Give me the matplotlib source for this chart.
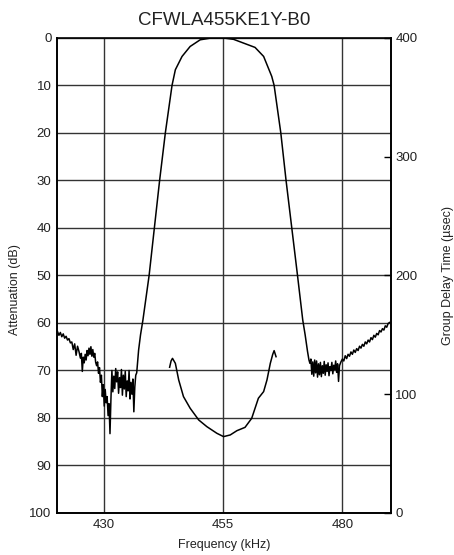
import numpy as np
import matplotlib
matplotlib.use("Agg")
import matplotlib.pyplot as plt

plt.rcParams['font.family'] = ['Liberation Sans', 'DejaVu Sans']

title = "CFWLA455KE1Y-B0"

# attenuation curve (dB)
att_freq = [
    420.3, 420.6, 420.9, 421.2, 421.5, 421.8, 422.1, 422.4, 422.7, 423.0,
    423.3, 423.6, 423.9, 424.2, 424.5, 424.8, 425.1, 425.3, 425.5, 425.7,
    425.9, 426.1, 426.3, 426.5, 426.7, 426.9, 427.1, 427.3, 427.5, 427.7,
    427.9, 428.1, 428.3, 428.5, 428.7, 428.9, 429.1, 429.3, 429.5, 429.7,
    429.9, 430.1, 430.3, 430.5, 430.7, 430.9, 431.1, 431.3, 431.5, 431.7,
    431.9, 432.1, 432.3, 432.5, 432.7, 432.9, 433.1, 433.3, 433.5, 433.7,
    433.9, 434.1, 434.3, 434.5, 434.7, 434.9, 435.1, 435.3, 435.5, 435.7,
    435.9, 436.1, 436.3, 436.5, 436.7, 436.9, 437.1, 437.3, 437.7, 438.2,
    439.5, 440.6, 441.7, 442.9, 443.6, 444.3, 445.0, 446.4, 448.1, 450.2,
    452.3, 455.0, 457.2, 459.3, 461.7, 463.5, 465.2, 465.7, 466.4, 467.1,
    468.2, 469.4, 470.6, 471.7, 472.2, 472.7, 473.0,
    473.2, 473.4, 473.6, 473.8, 474.0, 474.2, 474.4, 474.6, 474.8, 475.0,
    475.2, 475.4, 475.6, 475.8, 476.0, 476.2, 476.4, 476.6, 476.8, 477.0,
    477.2, 477.4, 477.6, 477.8, 478.0, 478.2, 478.4, 478.6, 478.8, 479.0,
    479.2, 479.4, 479.7, 480.0, 480.3, 480.6, 480.9, 481.2, 481.5, 481.8,
    482.1, 482.4, 482.7, 483.0, 483.3, 483.6, 483.9, 484.2, 484.5, 484.8,
    485.1, 485.4, 485.7, 486.0, 486.3, 486.6, 486.9, 487.2, 487.5, 487.8,
    488.1, 488.4, 488.7, 489.0, 489.3, 489.6, 489.9,
]
att_db = [
    61.8, 62.6, 62.0, 62.9, 62.3, 63.2, 62.8, 63.6, 63.3, 64.2,
    64.0, 65.6, 64.4, 66.8, 64.9, 66.0, 67.4, 66.4, 70.2, 67.2,
    68.4, 66.6, 67.8, 65.8, 66.9, 65.3, 66.6, 65.0, 67.0, 65.6,
    67.2, 66.4, 68.3, 69.0, 68.2, 70.6, 69.4, 72.5, 71.0, 75.5,
    73.0, 77.5, 74.0, 76.8, 75.5, 79.5, 77.0, 83.3, 76.0, 70.0,
    74.5, 71.2, 73.8, 69.6, 72.4, 70.3, 74.8, 71.5, 73.6, 69.8,
    75.2, 71.0, 73.9, 70.2, 75.5, 72.2, 74.3, 70.0, 76.0, 72.5,
    75.0, 71.8, 78.7, 73.5, 71.0, 70.5, 68.0, 65.7, 62.5, 59.4,
    50.0, 40.0, 30.0, 20.0, 15.0, 10.0, 6.7, 3.9, 1.8, 0.4,
    0.05, 0.0, 0.3, 1.1, 2.0, 3.9, 8.1, 10.0, 15.0, 20.0,
    30.0, 40.0, 50.0, 59.4, 62.5, 66.0, 67.8,
    68.5, 67.6, 70.8, 68.2, 71.2, 67.8, 70.5, 68.0, 71.4, 68.6,
    70.9, 68.3, 71.3, 69.0, 70.6, 68.1, 71.0, 68.8, 70.2, 68.4,
    71.1, 69.2, 70.0, 68.3, 70.7, 68.9, 69.8, 68.0, 70.4, 68.6,
    72.3, 69.0, 68.2, 67.6, 68.0, 66.9, 67.5, 66.6, 67.0, 66.1,
    66.6, 65.7, 66.2, 65.4, 65.8, 64.9, 65.3, 64.5, 64.9, 64.0,
    64.4, 63.6, 64.0, 63.1, 63.5, 62.6, 63.0, 62.2, 62.5, 61.6,
    61.9, 61.2, 61.5, 60.6, 60.9, 60.1, 59.9,
]

# group delay curve (usec)
gd_freq = [443.8, 444.1, 444.4, 445.0, 445.7, 446.7, 448.1, 449.9, 451.6,
           453.7, 455.1, 456.5, 457.9, 459.6, 461.0, 462.4, 463.5, 464.2,
           464.9, 465.4, 465.7, 466.1]
gd_us = [122.7, 128.0, 130.2, 126.0, 112.0, 98.0, 88.2, 78.3, 72.7,
         67.1, 64.3, 65.7, 69.3, 72.1, 79.7, 96.6, 102.2, 112.0,
         126.0, 133.5, 136.7, 131.6]

freq_ticks = [430, 455, 480]
att_ticks = list(range(0, 101, 10))
gd_ticks = [0, 100, 200, 300, 400]

fig = plt.figure(figsize=(4.54, 5.55), dpi=100)
ax = fig.add_axes([0.1256, 0.0757, 0.7357, 0.856])
ax2 = ax.twinx()

ax.plot(att_freq, att_db, color='black', lw=1.1)
ax2.plot(gd_freq, gd_us, color='black', lw=1.1)

ax.set_xlim(420.2, 490.2)
ax.set_ylim(100, 0)
ax2.set_ylim(0, 400)

ax.set_xticks(freq_ticks)
ax.set_yticks(att_ticks)
ax2.set_yticks(gd_ticks)
ax.grid(True, color='#333333', lw=1.0)
ax.tick_params(length=0, labelsize=9.5, labelcolor='#222222', pad=4)
ax2.tick_params(direction='in', length=5, width=1, labelsize=9.5,
                labelcolor='#222222', pad=3)

for a in (ax, ax2):
    for s in a.spines.values():
        s.set_linewidth(1.2)
ax2.spines['top'].set_visible(False)

ax.set_title(title, fontsize=13.5, color='#222222', pad=9)
ax.set_xlabel("Frequency (kHz)", fontsize=9, color='#222222', labelpad=6)
ax.set_ylabel("Attenuation (dB)", fontsize=9, color='#222222')
ax.yaxis.set_label_coords(-0.108, 0.47)
ax2.set_ylabel("Group Delay Time (µsec)", fontsize=9, color='#222222')
ax2.yaxis.set_label_coords(1.152, 0.5)

fig.savefig("out.png", dpi=100)
